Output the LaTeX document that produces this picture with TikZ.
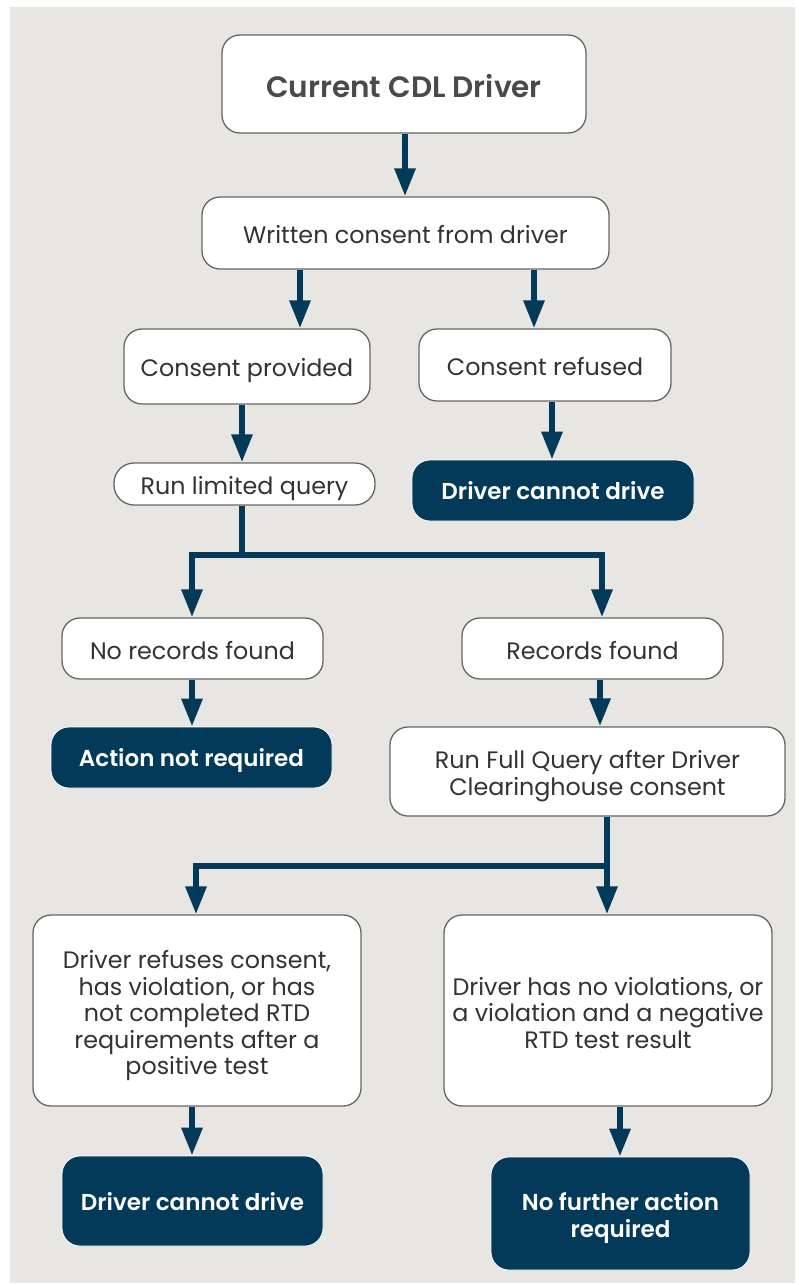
\documentclass[tikz,border=0pt]{standalone}
\usepackage{fontspec}
\setmainfont{Poppins}
\newfontface\semib{Poppins SemiBold}
\newfontface\medf{Poppins Medium}
\usetikzlibrary{arrows.meta,calc}
\definecolor{bg}{HTML}{E8E6E2}
\definecolor{navy}{HTML}{033A5A}
\definecolor{txt}{HTML}{333333}
\definecolor{ttl}{HTML}{4A4A4A}
\definecolor{bord}{HTML}{666666}
\newcommand\lowtext[2][4pt]{\raisebox{-#1}[\height][\depth]{\begin{tabular}{@{}c@{}}#2\end{tabular}}}
\tikzset{
  box/.style={draw=bord, line width=1.3pt, fill=white, rounded corners=18pt, text=txt, font=\fontsize{23.8}{26.5}\selectfont, align=center, inner sep=0pt},
  dark/.style={draw=white, line width=0.8pt, fill=navy, rounded corners=18pt, text=white, font=\fontsize{23}{26.5}\selectfont\semib, align=center, inner sep=0pt},
  conn/.style={draw=navy, line width=6pt},
  arr/.style={conn, -{Triangle[length=28pt,width=20pt]}}
}
\begin{document}
\begin{tikzpicture}[x=1pt,y=-1pt]
\useasboundingbox (0,0) rectangle (798,1285);
\fill[white] (0,0) rectangle (798,1285);
\fill[bg] (10,7) rectangle (795,1283);
\node[box, minimum width=364pt, minimum height=98pt, font=\fontsize{29.5}{34}\selectfont\semib, text=ttl] (n1) at (404,84) {\lowtext[7pt]{Current CDL Driver}};
\node[box, minimum width=407pt, minimum height=72pt] (n2) at (405.5,233) {\lowtext[5pt]{Written consent from driver}};
\node[box, minimum width=246pt, minimum height=75pt] (n3) at (247,366.5) {\lowtext[5pt]{Consent provided}};
\node[box, minimum width=252pt, minimum height=72pt] (n4) at (545,365) {\lowtext[5pt]{Consent refused}};
\node[box, minimum width=261pt, minimum height=42pt, rounded corners=20pt] (n5) at (244.5,484) {\lowtext[5pt]{Run limited query}};
\node[dark, minimum width=282pt, minimum height=61pt] (n6) at (553,490.5) {\lowtext[4pt]{Driver cannot drive}};
\node[box, minimum width=261pt, minimum height=61pt] (n7) at (192.5,648.5) {\lowtext[6pt]{No records found}};
\node[box, minimum width=261pt, minimum height=61pt] (n8) at (592.5,648.5) {\lowtext[6pt]{Records found}};
\node[dark, minimum width=281pt, minimum height=61pt] (n9) at (191.5,757.5) {\lowtext[4pt]{Action not required}};
\node[box, minimum width=395pt, minimum height=89pt] (n10) at (587.5,771.5) {\lowtext[5pt]{Run Full Query after Driver\\Clearinghouse consent}};
\node[box, minimum width=328pt, minimum height=191pt] (n11) at (197,1010.5) {\lowtext[6pt]{Driver refuses consent,\\has violation, or has\\not completed RTD\\requirements after a\\positive test}};
\node[box, minimum width=328pt, minimum height=191pt] (n12) at (608,1010.5) {\lowtext[6pt]{Driver has no violations, or\\a violation and a negative\\RTD test result}};
\node[dark, minimum width=261pt, minimum height=90pt] (n13) at (192.5,1201) {\lowtext[4pt]{Driver cannot drive}};
\node[dark, minimum width=259pt, minimum height=113pt] (n14) at (620.5,1213.5) {\lowtext[5pt]{No further action\\required}};
\coordinate (a1) at (405,0);
\coordinate (a2) at (300,0);
\coordinate (a3) at (534,0);
\coordinate (a4) at (242,0);
\coordinate (a5) at (552,0);
\coordinate (j1) at (242,555);
\coordinate (a6) at (602,0);
\coordinate (a7) at (192,0);
\coordinate (a8) at (600,0);
\coordinate (j2) at (607,866);
\coordinate (a9) at (196,0);
\coordinate (a10) at (620,0);
\draw[arr] (n1.south -| a1) -- (n2.north -| a1);
\draw[arr] (n2.south -| a2) -- (n3.north -| a2);
\draw[arr] (n2.south -| a3) -- (n4.north -| a3);
\draw[arr] (n3.south -| a4) -- (n5.north -| a4);
\draw[arr] (n4.south -| a5) -- (n6.north -| a5);
\draw[conn] (n5.south -| j1) -- (j1);
\draw[arr] ([xshift=3pt]j1) -| (n7.north -| a7);
\draw[arr] ([xshift=-3pt]j1) -| (n8.north -| a6);
\draw[arr] (n7.south -| a7) -- (n9.north -| a7);
\draw[arr] (n8.south -| a8) -- (n10.north -| a8);
\draw[arr] (n10.south -| j2) -- (n12.north -| j2);
\draw[arr] ([xshift=3pt]j2) -| (n11.north -| a9);
\draw[arr] (n11.south -| a7) -- (n13.north -| a7);
\draw[arr] (n12.south -| a10) -- (n14.north -| a10);
\end{tikzpicture}
\end{document}
